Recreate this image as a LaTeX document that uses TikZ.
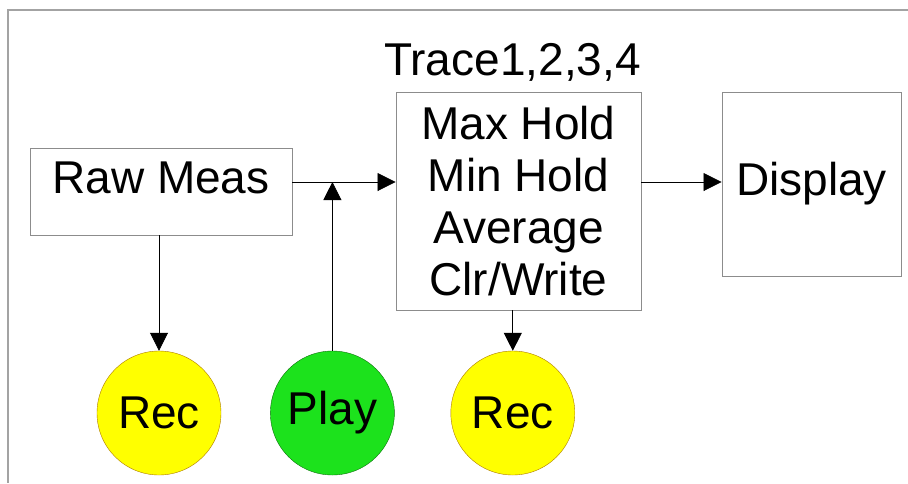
\documentclass[tikz,border=0pt]{standalone}
\usepackage{fontspec}
\setmainfont{Liberation Sans}
\usepackage{xcolor}
\usepackage{tikz}
\usetikzlibrary{arrows.meta}
\usetikzlibrary{positioning}
\definecolor{recyellow}{RGB}{255,255,0}
\definecolor{playgreen}{RGB}{28,226,28}
\definecolor{boxgray}{RGB}{140,140,140}
\tikzstyle{block} = [rectangle, 
draw=boxgray, 
line width=0.9pt, 
inner sep=0pt, 
font=\fontsize{46}{52}\selectfont]
\tikzstyle{recnode} = [circle, 
minimum size=124pt, 
inner sep=0pt, 
draw=black!40!recyellow!80!red, 
fill=recyellow, 
font=\fontsize{46}{52}\selectfont]
\tikzstyle{playnode} = [circle, 
minimum size=124pt, 
inner sep=0pt, 
draw=black!50!playgreen, 
fill=playgreen, 
font=\fontsize{46}{52}\selectfont]
\tikzstyle{arrow} = [line width=0.8pt,-{Triangle[length=18pt,width=18pt]}]
\tikzstyle{heading} = [inner sep=0pt, font=\fontsize{46}{52}\selectfont]

\begin{document}
\begin{tikzpicture}[x=1pt,y=-1pt]
        \useasboundingbox (0,0) rectangle (908,483);
        \draw [boxgray!80, line width=2pt] (908,10) -- (8,10) -- (8,483);

        \coordinate (lvl) at (0,182);

        \node (raw) [block, minimum width=262pt, text height=45pt, text depth=42pt] 
        at (161,191.5) {Raw Meas};
        \node (trace) [block, minimum width=245pt, minimum height=218pt, align=center] 
        at (518.5,201) {Max Hold\\Min Hold\\Average\\Clr/Write};
        \node (title) [heading, anchor=base] 
        at (512.5,75) {Trace1,2,3,4};
        \node (disp) [block, minimum width=179pt, minimum height=184pt] 
        at (811.5,184) {Display};

        \node (rec1) [recnode] at (159,413) {Rec};
        \node (play) [playnode, right=49pt of rec1] {Play};
        \node (rec2) [recnode, right=56pt of play] {Rec};

        \draw [arrow] (raw.east |- lvl) -- (trace.west |- lvl);
        \draw [arrow] (trace.east |- lvl) -- (disp.west |- lvl);
        \draw [arrow] (play) -- (play |- lvl);
        \draw [arrow] (rec1 |- raw.south) -- (rec1);
        \draw [arrow] (rec2 |- trace.south) -- (rec2);

\end{tikzpicture}
\end{document}
